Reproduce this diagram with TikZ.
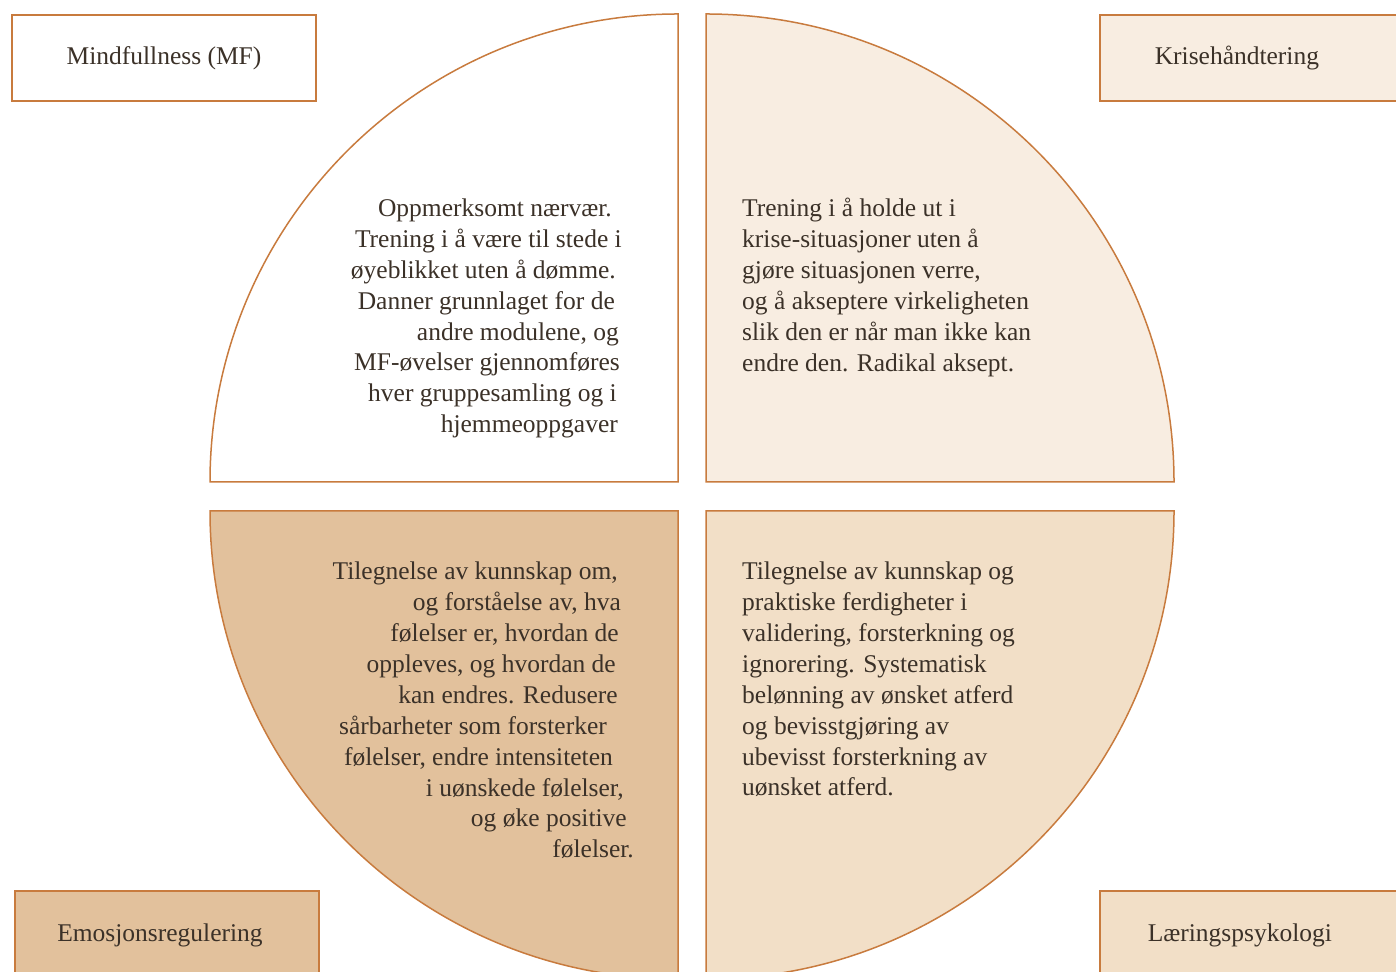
\documentclass[tikz,border=0pt]{standalone}
\usepackage{fontspec}
\setmainfont{Liberation Serif}
\definecolor{rim}{HTML}{C87B3E}
\definecolor{ink}{HTML}{3B3128}
\definecolor{pale}{HTML}{F8EDE1}
\definecolor{tanfill}{HTML}{E2C19C}
\definecolor{sand}{HTML}{F2DFC7}
\newcommand{\gap}[1]{\makebox[#1]{}}
\begin{document}
\begin{tikzpicture}[x=1pt,y=1pt,
   every node/.style={font=\fontsize{25.5}{30.9}\selectfont,text=ink},
   quarter/.style={draw=rim,line width=1.5pt},
   modul/.style={draw=rim,line width=1.5pt,minimum height=86pt,inner sep=0pt},
   tekst/.style={inner sep=0pt}]
   \useasboundingbox (0,0) rectangle (1396,971);

   % the four quarters of the circle
   \draw[quarter,fill=white] (678,489) -- ++(-468,0) arc[start angle=180,end angle=90,radius=468] -- cycle;
   \draw[quarter,fill=pale] (706,489) -- ++(0,468) arc[start angle=90,end angle=0,radius=468] -- cycle;
   \draw[quarter,fill=tanfill] (678,460) -- ++(-468,0) arc[start angle=180,end angle=270,radius=468] -- cycle;
   \draw[quarter,fill=sand] (706,460) -- ++(0,-468) arc[start angle=270,end angle=360,radius=468] -- cycle;
   %%%%%%%%%%
   \node[modul,fill=white,minimum width=304pt] (mf) at (164,913) {\raisebox{-1pt}{Mindfullness (MF)}};
   \node[modul,fill=pale,anchor=west,align=left,text width=250pt,inner xsep=55pt] (krise) at (1099,913) {\raisebox{-1pt}{Krisehåndtering}};
   \node[modul,fill=tanfill,minimum width=304pt,minimum height=88pt] (emo) at (167,36) {\hspace*{-14pt}Emosjonsregulering};
   \node[modul,fill=sand,anchor=west,align=left,text width=250pt,inner xsep=48pt,minimum height=88pt] (laering) at (1099,36) {Læringspsykologi};
   %%%%%%%%%%
   \node[tekst,anchor=east,align=right] (mftekst) at (622,652.5) {
   Oppmerksomt nærvær.\gap{10pt}\\
   Trening i å være til stede i\\
   øyeblikket uten å dømme.\gap{6pt}\\
   Danner grunnlaget for de\gap{7pt}\\
   andre modulene, og\gap{3pt}\\
   MF-øvelser gjennomføres\gap{2pt}\\
   hver gruppesamling og i\gap{5pt}\\
   hjemmeoppgaver\gap{4pt}};

   \node[tekst,anchor=west,align=left] (krisetekst) at (742,683.5) {
   Trening i å holde ut i\\
   krise-situasjoner uten å\\
   gjøre situasjonen verre,\\
   og å akseptere virkeligheten\\
   slik den er når man ikke kan\\
   endre den. Radikal aksept.};

   \node[tekst,anchor=east,align=right] (emotekst) at (634,260.5) {
   Tilegnelse av kunnskap om,\gap{16pt}\\
   og forståelse av, hva\gap{13pt}\\
   følelser er, hvordan de\gap{15pt}\\
   oppleves, og hvordan de\gap{18pt}\\
   kan endres. Redusere\gap{16pt}\\
   sårbarheter som forsterker\gap{27pt}\\
   følelser, endre intensiteten\gap{21pt}\\
   i uønskede følelser,\gap{10pt}\\
   og øke positive\gap{7pt}\\
   følelser.};

   \node[tekst,anchor=west,align=left] (laeringtekst) at (742,291.5) {
   Tilegnelse av kunnskap og\\
   praktiske ferdigheter i\\
   validering, forsterkning og\\
   ignorering. Systematisk\\
   belønning av ønsket atferd\\
   og bevisstgjøring av\\
   ubevisst forsterkning av\\
   uønsket atferd.};
\end{tikzpicture}
\end{document}
